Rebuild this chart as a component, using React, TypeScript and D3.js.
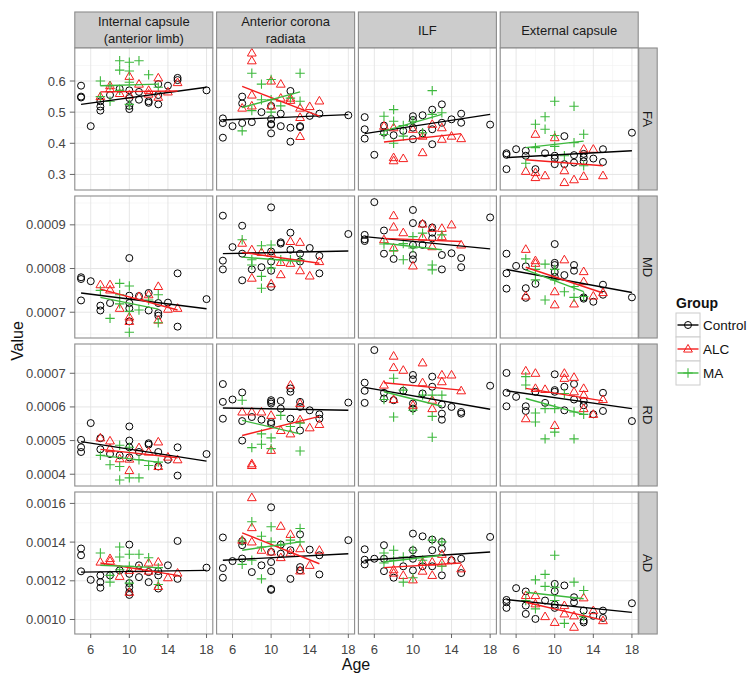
import React from 'react';
import * as d3 from 'd3';

const REGIONS = [["Internal capsule", "(anterior limb)"], ["Anterior corona", "radiata"], ["ILF"], ["External capsule"]];
const MEASURES = ["FA", "MD", "RD", "AD"];
const GROUPS = ["Control", "ALC", "MA"];
const GROUP_COLORS = ["#000000", "#f41e1e", "#3cb83c"];
const AGE_TICKS = [6, 10, 14, 18];
const AGE_MINOR = [8, 12, 16];
const AGE_DOMAIN = [4.35, 18.65];
const Y_DOMAINS = [[0.25, 0.706], [0.000641, 0.000966], [0.000365, 0.000787], [0.000925, 0.001659]];
const Y_TICKS = [[0.3, 0.4, 0.5, 0.6], [0.0007, 0.0008, 0.0009], [0.0004, 0.0005, 0.0006, 0.0007], [0.0010, 0.0012, 0.0014, 0.0016]];
const Y_TICK_LABELS = [["0.3", "0.4", "0.5", "0.6"], ["0.0007", "0.0008", "0.0009"], ["0.0004", "0.0005", "0.0006", "0.0007"], ["0.0010", "0.0012", "0.0014", "0.0016"]];
const Y_MINOR = [[0.25, 0.35, 0.45, 0.55, 0.65], [0.00065, 0.00075, 0.00085, 0.00095], [0.00045, 0.00055, 0.00065, 0.00075], [0.0011, 0.0013, 0.0015]];

// ---------- FA ----------
const FA_CONTROL = [
  [[5,.585],[5,.55],[5,.547],[6,.455],[7,.535],[7,.518],[7,.505],[8,.555],[9,.575],[10,.57],[10,.545],[10,.52],[10,.51],[11,.565],[11,.54],[12,.535],[12,.53],[13,.59],[13,.555],[13,.525],[14,.585],[15,.61],[15,.603],[18,.57]],
  [[5,.48],[5,.465],[5,.418],[6,.455],[7,.55],[7,.528],[7,.465],[8,.468],[9,.5],[10,.52],[10,.478],[10,.462],[10,.46],[10,.432],[11,.495],[11,.455],[12,.568],[12,.45],[12,.405],[13,.455],[13,.452],[14,.488],[15,.495],[18,.49]],
  [[5,.484],[5,.445],[5,.415],[6,.363],[7,.457],[7,.434],[8,.426],[9,.44],[10,.487],[10,.475],[10,.45],[10,.413],[11,.49],[11,.432],[12,.508],[12,.445],[12,.397],[13,.525],[13,.466],[14,.477],[15,.495],[15,.466],[18,.46]],
  [[5,.368],[5,.363],[5,.317],[6,.381],[7,.376],[7,.36],[8,.317],[9,.368],[10,.36],[10,.351],[10,.333],[11,.423],[11,.333],[12,.362],[12,.338],[13,.366],[13,.355],[13,.342],[14,.351],[15,.381],[15,.34],[18,.434]],
];
const FA_ALC = [
  [[7,.55],[8,.585],[8,.575],[9,.56],[10,.615],[10,.555],[11,.59],[12,.57],[12,.558],[13,.61],[13,.548],[14,.565],[15,.595]],
  [[7,.513],[8,.69],[8,.665],[8,.555],[8,.52],[10,.6],[10,.52],[11,.59],[11,.545],[12,.545],[12,.538],[13,.513],[13,.483],[13,.422],[14,.518],[15,.536]],
  [[7,.455],[8,.45],[8,.354],[8,.344],[9,.351],[10,.445],[11,.423],[11,.37],[12,.461],[13,.45],[13,.413],[14,.423],[15,.415]],
  [[7,.31],[8,.429],[8,.306],[8,.29],[9,.296],[10,.418],[11,.312],[11,.274],[12,.283],[13,.381],[13,.294],[14,.381],[15,.296]],
];
const FA_MA = [
  [[7,.6],[7,.55],[8,.585],[8,.535],[9,.665],[9,.635],[9,.57],[10,.66],[10,.632],[10,.596],[10,.525],[11,.665],[12,.62],[13,.58]],
  [[7,.44],[8,.625],[8,.505],[9,.59],[9,.54],[10,.605],[10,.54],[10,.5],[11,.52],[12,.545],[13,.625],[13,.535]],
  [[7,.487],[7,.428],[8,.508],[8,.471],[8,.4],[9,.457],[9,.423],[10,.471],[11,.434],[12,.569],[12,.493],[13,.498]],
  [[7,.336],[8,.461],[8,.386],[9,.485],[9,.445],[10,.535],[10,.425],[10,.39],[11,.36],[12,.519],[12,.402],[13,.429],[13,.328]],
];
const FA_FITS = [
  [[5,.525,18,.58],[7,.565,15,.568],[7,.585,13,.59]],
  [[5,.475,18,.492],[7,.583,15,.487],[7,.515,13,.565]],
  [[5,.431,18,.493],[7,.404,15,.431],[7,.439,13,.493]],
  [[5,.354,18,.376],[7,.347,15,.328],[7,.386,13,.407]],
];

// ---------- MD ----------
const MD_CONTROL = [
  [[5,7.8e-4],[5,7.76e-4],[5,7.27e-4],[6,7.71e-4],[7,7.15e-4],[7,7.04e-4],[8,7.21e-4],[10,8.24e-4],[10,7.38e-4],[10,7.21e-4],[10,7.09e-4],[10,6.79e-4],[11,7.37e-4],[12,7.44e-4],[12,7.04e-4],[13,7.21e-4],[13,6.98e-4],[13,6.92e-4],[14,7.22e-4],[15,7.89e-4],[15,6.67e-4],[18,7.3e-4]],
  [[5,9.21e-4],[5,8.18e-4],[5,7.98e-4],[6,8.49e-4],[7,8.98e-4],[7,8.34e-4],[7,7.73e-4],[8,7.98e-4],[9,8.03e-4],[10,9.4e-4],[10,8.39e-4],[10,8.16e-4],[10,7.95e-4],[10,7.58e-4],[11,8.6e-4],[11,8.57e-4],[12,8.82e-4],[12,8.43e-4],[13,8.34e-4],[13,8.16e-4],[14,8.47e-4],[15,8.29e-4],[15,7.89e-4],[18,8.79e-4]],
  [[5,8.77e-4],[5,8.67e-4],[5,8.63e-4],[6,9.52e-4],[7,8.87e-4],[7,8.34e-4],[8,8.22e-4],[10,9.34e-4],[10,9.04e-4],[10,8.54e-4],[10,8.31e-4],[10,8.21e-4],[11,9.02e-4],[11,8.54e-4],[12,8.94e-4],[12,8.82e-4],[12,8.69e-4],[13,8.31e-4],[13,7.98e-4],[14,8.35e-4],[15,8.24e-4],[15,8.03e-4],[18,9.17e-4]],
  [[5,8.34e-4],[5,7.89e-4],[5,7.54e-4],[6,8.06e-4],[7,8.05e-4],[7,7.55e-4],[7,7.33e-4],[8,7.65e-4],[10,8.56e-4],[10,8.13e-4],[10,8.08e-4],[10,7.92e-4],[10,7.81e-4],[11,7.85e-4],[12,8.08e-4],[12,7.95e-4],[13,7.34e-4],[13,7.31e-4],[14,7.24e-4],[15,7.63e-4],[15,7.4e-4],[18,7.34e-4]],
];
const MD_ALC = [
  [[7,7.63e-4],[8,7.63e-4],[8,7.51e-4],[9,7.09e-4],[10,6.89e-4],[10,6.79e-4],[11,7.36e-4],[12,7.4e-4],[13,7.59e-4],[13,6.82e-4],[14,7.07e-4],[15,7.09e-4]],
  [[7,8.58e-4],[8,8.43e-4],[8,7.78e-4],[9,8.37e-4],[10,8.35e-4],[10,7.65e-4],[11,8.14e-4],[11,7.86e-4],[12,8.62e-4],[12,8.12e-4],[13,8.6e-4],[13,7.95e-4],[14,7.83e-4],[15,8.16e-4]],
  [[7,8.66e-4],[8,9.21e-4],[8,8.95e-4],[8,8.47e-4],[9,8.82e-4],[10,8.06e-4],[11,9.02e-4],[11,8.72e-4],[12,8.92e-4],[12,8.5e-4],[13,8.92e-4],[13,8.73e-4],[14,9.0e-4],[15,8.54e-4]],
  [[7,8.44e-4],[7,7.37e-4],[8,8.18e-4],[8,8.12e-4],[10,7.47e-4],[10,7.17e-4],[11,8.2e-4],[12,7.19e-4],[13,7.93e-4],[13,7.7e-4],[14,7.37e-4],[15,7.45e-4]],
];
const MD_MA = [
  [[7,7.5e-4],[8,6.86e-4],[9,7.66e-4],[9,7.4e-4],[9,7.19e-4],[10,7.6e-4],[10,7.02e-4],[10,6.54e-4],[11,7.05e-4],[12,7.28e-4],[13,7.4e-4],[13,6.76e-4]],
  [[7,8.66e-4],[8,8.2e-4],[8,8.08e-4],[9,8.52e-4],[9,7.82e-4],[9,7.55e-4],[10,8.54e-4],[10,8.01e-4],[11,8.2e-4],[12,8.2e-4],[13,8.2e-4]],
  [[7,8.56e-4],[8,8.41e-4],[9,8.57e-4],[9,8.2e-4],[10,8.73e-4],[10,8.47e-4],[11,8.81e-4],[12,8.08e-4],[12,7.97e-4],[13,8.77e-4]],
  [[7,8.22e-4],[8,7.98e-4],[8,7.74e-4],[9,8.1e-4],[9,7.28e-4],[10,7.98e-4],[10,7.74e-4],[11,7.47e-4],[12,7.59e-4],[12,7.34e-4],[13,7.36e-4]],
];
const MD_FITS = [
  [[5,7.44e-4,18,7.08e-4],[7,7.53e-4,15,7.05e-4],[7,7.34e-4,13,7.07e-4]],
  [[5,8.34e-4,18,8.4e-4],[7,8.37e-4,15,8.12e-4],[7,8.26e-4,13,8.16e-4]],
  [[5,8.73e-4,18,8.45e-4],[7,8.69e-4,15,8.62e-4],[7,8.58e-4,13,8.43e-4]],
  [[5,7.98e-4,18,7.45e-4],[7,8.03e-4,15,7.44e-4],[7,7.97e-4,13,7.47e-4]],
];

// ---------- RD ----------
const RD_CONTROL = [
  [[5,5.02e-4],[5,4.8e-4],[5,4.66e-4],[6,5.52e-4],[7,5.07e-4],[7,4.74e-4],[8,4.6e-4],[9,4.56e-4],[10,5.42e-4],[10,5.0e-4],[10,4.8e-4],[10,4.5e-4],[11,4.66e-4],[12,4.92e-4],[12,4.88e-4],[13,4.66e-4],[13,4.23e-4],[14,4.43e-4],[15,4.8e-4],[15,3.96e-4],[18,4.6e-4]],
  [[5,6.68e-4],[5,6.15e-4],[5,5.65e-4],[6,6.22e-4],[7,6.43e-4],[7,5.58e-4],[7,5.0e-4],[8,5.7e-4],[9,5.62e-4],[10,6.2e-4],[10,6.15e-4],[10,6.1e-4],[10,5.55e-4],[10,5.5e-4],[11,6.18e-4],[11,5.95e-4],[12,6.55e-4],[12,6.45e-4],[12,5.65e-4],[13,6.15e-4],[13,6.0e-4],[13,5.3e-4],[14,5.9e-4],[15,5.78e-4],[15,5.65e-4],[18,6.13e-4]],
  [[5,6.72e-4],[5,6.48e-4],[5,6.12e-4],[6,7.69e-4],[7,6.42e-4],[7,6.25e-4],[8,6.2e-4],[9,6.48e-4],[10,6.95e-4],[10,6.82e-4],[10,6.1e-4],[10,5.95e-4],[11,6.4e-4],[12,6.9e-4],[12,6.6e-4],[13,6.07e-4],[13,5.8e-4],[13,5.62e-4],[14,6.0e-4],[15,5.85e-4],[15,5.8e-4],[18,6.63e-4]],
  [[5,7.01e-4],[5,6.42e-4],[5,6.02e-4],[6,6.3e-4],[7,6.02e-4],[7,5.88e-4],[8,6.45e-4],[9,6.12e-4],[10,6.97e-4],[10,6.5e-4],[10,6.45e-4],[11,6.6e-4],[11,5.9e-4],[12,6.68e-4],[12,6.22e-4],[13,6.18e-4],[13,6.05e-4],[14,5.78e-4],[15,6.42e-4],[15,5.88e-4],[18,5.58e-4]],
];
const RD_ALC = [
  [[7,5.08e-4],[8,4.99e-4],[8,4.76e-4],[9,4.46e-4],[10,4.11e-4],[10,4.45e-4],[11,4.79e-4],[12,4.66e-4],[13,4.96e-4],[13,4.23e-4],[14,4.51e-4],[15,4.43e-4]],
  [[7,5.85e-4],[8,5.85e-4],[8,4.31e-4],[8,4.26e-4],[9,5.85e-4],[10,5.75e-4],[10,4.71e-4],[11,5.3e-4],[12,6.65e-4],[12,5.2e-4],[13,6.1e-4],[13,5.62e-4],[14,5.38e-4],[15,5.48e-4]],
  [[7,6.65e-4],[8,7.51e-4],[8,7.17e-4],[8,6.22e-4],[9,7.09e-4],[10,6.05e-4],[11,7.31e-4],[11,6.72e-4],[12,6.2e-4],[12,5.95e-4],[13,6.95e-4],[13,6.75e-4],[14,6.95e-4],[15,6.48e-4]],
  [[7,7.07e-4],[7,5.65e-4],[8,7.0e-4],[8,6.55e-4],[9,6.52e-4],[10,5.45e-4],[11,7.0e-4],[11,6.85e-4],[12,6.88e-4],[12,6.45e-4],[13,6.55e-4],[13,6.35e-4],[13,5.95e-4],[14,5.78e-4],[15,6.22e-4]],
];
const RD_MA = [
  [[7,4.56e-4],[8,4.28e-4],[9,4.86e-4],[9,4.23e-4],[9,3.83e-4],[10,4.8e-4],[10,3.89e-4],[11,4.43e-4],[11,3.89e-4],[12,4.26e-4],[13,4.36e-4]],
  [[7,6.2e-4],[8,4.79e-4],[9,5.2e-4],[9,4.89e-4],[10,5.08e-4],[10,4.76e-4],[11,5.75e-4],[12,5.42e-4],[13,5.52e-4],[13,4.69e-4]],
  [[7,6.22e-4],[8,6.85e-4],[8,5.7e-4],[9,6.5e-4],[10,5.9e-4],[11,6.35e-4],[12,6.35e-4],[12,5.72e-4],[12,5.1e-4],[13,6.35e-4]],
  [[7,6.9e-4],[7,6.65e-4],[8,5.82e-4],[8,5.55e-4],[9,5.95e-4],[9,5.05e-4],[10,5.95e-4],[10,5.25e-4],[11,6.4e-4],[12,5.85e-4],[12,5.05e-4],[13,5.78e-4]],
];
const RD_FITS = [
  [[5,4.97e-4,18,4.39e-4],[7,4.74e-4,15,4.49e-4],[7,4.56e-4,13,4.36e-4]],
  [[5,5.97e-4,18,5.9e-4],[7,5.15e-4,15,5.72e-4],[7,5.6e-4,13,5.2e-4]],
  [[5,6.58e-4,18,5.93e-4],[7,6.72e-4,15,6.5e-4],[7,6.45e-4,13,6.02e-4]],
  [[5,6.48e-4,18,5.95e-4],[7,6.55e-4,15,6.18e-4],[7,6.25e-4,13,5.78e-4]],
];

// ---------- AD ----------
const AD_CONTROL = [
  [[5,1.367e-3],[5,1.332e-3],[5,1.249e-3],[6,1.205e-3],[7,1.228e-3],[7,1.193e-3],[7,1.164e-3],[8,1.228e-3],[9,1.254e-3],[10,1.387e-3],[10,1.236e-3],[10,1.188e-3],[10,1.167e-3],[10,1.141e-3],[10,1.127e-3],[11,1.28e-3],[11,1.219e-3],[12,1.245e-3],[12,1.193e-3],[13,1.25e-3],[13,1.228e-3],[13,1.16e-3],[14,1.28e-3],[15,1.406e-3],[15,1.21e-3],[18,1.268e-3]],
  [[5,1.424e-3],[5,1.266e-3],[5,1.216e-3],[6,1.302e-3],[7,1.405e-3],[7,1.384e-3],[7,1.315e-3],[8,1.245e-3],[9,1.28e-3],[10,1.58e-3],[10,1.349e-3],[10,1.297e-3],[10,1.25e-3],[10,1.158e-3],[10,1.153e-3],[11,1.387e-3],[11,1.34e-3],[12,1.358e-3],[12,1.21e-3],[13,1.44e-3],[13,1.271e-3],[13,1.254e-3],[14,1.361e-3],[15,1.332e-3],[15,1.233e-3],[18,1.41e-3]],
  [[5,1.363e-3],[5,1.309e-3],[5,1.285e-3],[6,1.314e-3],[7,1.384e-3],[7,1.314e-3],[7,1.25e-3],[8,1.216e-3],[9,1.275e-3],[10,1.444e-3],[10,1.358e-3],[10,1.314e-3],[10,1.254e-3],[11,1.43e-3],[11,1.275e-3],[12,1.413e-3],[12,1.358e-3],[12,1.275e-3],[13,1.401e-3],[13,1.366e-3],[13,1.228e-3],[14,1.306e-3],[15,1.314e-3],[15,1.24e-3],[18,1.427e-3]],
  [[5,1.101e-3],[5,1.089e-3],[5,1.06e-3],[6,1.162e-3],[7,1.145e-3],[7,1.072e-3],[7,1.029e-3],[8,1.003e-3],[9,1.098e-3],[10,1.184e-3],[10,1.146e-3],[10,1.077e-3],[10,1.06e-3],[11,1.176e-3],[12,1.115e-3],[12,1.089e-3],[13,1.046e-3],[13,0.994e-3],[13,0.985e-3],[14,1.019e-3],[15,1.046e-3],[15,1.008e-3],[18,1.084e-3]],
];
const AD_ALC = [
  [[7,1.297e-3],[8,1.315e-3],[8,1.302e-3],[9,1.223e-3],[10,1.254e-3],[10,1.141e-3],[11,1.262e-3],[12,1.292e-3],[12,1.25e-3],[13,1.297e-3],[13,1.171e-3],[14,1.216e-3],[15,1.24e-3]],
  [[7,1.41e-3],[8,1.63e-3],[8,1.475e-3],[8,1.401e-3],[9,1.358e-3],[10,1.349e-3],[11,1.482e-3],[11,1.32e-3],[12,1.44e-3],[12,1.344e-3],[13,1.366e-3],[13,1.251e-3],[14,1.28e-3],[15,1.358e-3]],
  [[8,1.257e-3],[8,1.24e-3],[9,1.228e-3],[10,1.205e-3],[11,1.297e-3],[11,1.25e-3],[12,1.297e-3],[12,1.228e-3],[13,1.337e-3],[13,1.292e-3],[14,1.306e-3],[15,1.262e-3]],
  [[7,1.124e-3],[8,1.124e-3],[8,1.081e-3],[9,1.015e-3],[10,0.985e-3],[11,1.072e-3],[11,1.029e-3],[12,1.019e-3],[12,0.96e-3],[13,1.112e-3],[14,1.046e-3],[15,0.994e-3]],
];
const AD_MA = [
  [[7,1.344e-3],[8,1.228e-3],[8,1.193e-3],[9,1.375e-3],[9,1.323e-3],[9,1.257e-3],[10,1.337e-3],[10,1.275e-3],[10,1.188e-3],[11,1.337e-3],[12,1.319e-3],[13,1.268e-3],[13,1.181e-3]],
  [[7,1.406e-3],[7,1.285e-3],[8,1.505e-3],[8,1.306e-3],[9,1.43e-3],[9,1.375e-3],[9,1.21e-3],[10,1.479e-3],[10,1.401e-3],[11,1.384e-3],[12,1.41e-3],[13,1.47e-3],[13,1.401e-3]],
  [[7,1.344e-3],[7,1.292e-3],[8,1.358e-3],[8,1.306e-3],[9,1.323e-3],[9,1.193e-3],[10,1.358e-3],[10,1.216e-3],[11,1.306e-3],[12,1.41e-3],[13,1.401e-3],[13,1.275e-3]],
  [[7,1.098e-3],[8,1.205e-3],[8,1.055e-3],[9,1.233e-3],[9,1.171e-3],[10,1.332e-3],[10,1.167e-3],[10,1.098e-3],[11,0.98e-3],[12,1.193e-3],[13,1.15e-3],[13,1.015e-3]],
];
const AD_FITS = [
  [[5,1.245e-3,18,1.254e-3],[7,1.292e-3,15,1.228e-3],[7,1.28e-3,13,1.268e-3]],
  [[5,1.306e-3,18,1.34e-3],[7,1.448e-3,15,1.288e-3],[7,1.358e-3,13,1.401e-3]],
  [[5,1.306e-3,18,1.349e-3],[7,1.268e-3,15,1.292e-3],[7,1.297e-3,13,1.332e-3]],
  [[5,1.103e-3,18,1.037e-3],[7,1.089e-3,15,0.997e-3],[7,1.141e-3,13,1.107e-3]],
];

const POINTS = [[FA_CONTROL, FA_ALC, FA_MA], [MD_CONTROL, MD_ALC, MD_MA], [RD_CONTROL, RD_ALC, RD_MA], [AD_CONTROL, AD_ALC, AD_MA]];
const FITS = [FA_FITS, MD_FITS, RD_FITS, AD_FITS];

const FONT = "'Liberation Sans', Arial, Helvetica, sans-serif";
const BORDER = "#8c8c8c";

function Marker({ g, x, y }: { g: number; x: number; y: number }) {
  const c = GROUP_COLORS[g];
  if (g === 0) return <circle cx={x} cy={y} r={3.5} fill="none" stroke={c} strokeWidth={1} />;
  if (g === 1) {
    const s = 8.8, h = s * 0.866;
    const d = `M${x},${y - h * 0.6}L${x + s / 2},${y + h * 0.4}L${x - s / 2},${y + h * 0.4}Z`;
    return <path d={d} fill="none" stroke={c} strokeWidth={1} />;
  }
  const a = 4.7;
  return <path d={`M${x - a},${y}H${x + a}M${x},${y - a}V${y + a}`} stroke={c} strokeWidth={1.1} fill="none" />;
}

export default function App() {
  const W = 750, H = 677;
  const left0 = 74.8, colStep = 141.8, pw = 138;
  const top0 = 48, rowStep = 148, ph = 142;
  const stripTop = 12;
  const rightStripX = left0 + 3 * colStep + pw + 0.5;
  const rightStripW = 18.5;

  const panels: JSX.Element[] = [];
  MEASURES.forEach((m, r) => {
    const top = top0 + r * rowStep;
    const y = d3.scaleLinear().domain(Y_DOMAINS[r]).range([top + ph, top]);
    REGIONS.forEach((_, c) => {
      const left = left0 + c * colStep;
      const x = d3.scaleLinear().domain(AGE_DOMAIN).range([left, left + pw]);
      const key = `${r}-${c}`;
      panels.push(
        <g key={key}>
          <rect x={left} y={top} width={pw} height={ph} fill="#fff" />
          {AGE_MINOR.map(t => <line key={'xm' + t} x1={x(t)} x2={x(t)} y1={top} y2={top + ph} stroke="#f2f2f2" strokeWidth={0.6} />)}
          {Y_MINOR[r].filter(t => t > Y_DOMAINS[r][0] && t < Y_DOMAINS[r][1]).map(t => <line key={'ym' + t} x1={left} x2={left + pw} y1={y(t)} y2={y(t)} stroke="#f2f2f2" strokeWidth={0.6} />)}
          {AGE_TICKS.map(t => <line key={'xg' + t} x1={x(t)} x2={x(t)} y1={top} y2={top + ph} stroke="#e3e3e3" strokeWidth={0.9} />)}
          {Y_TICKS[r].map(t => <line key={'yg' + t} x1={left} x2={left + pw} y1={y(t)} y2={y(t)} stroke="#e3e3e3" strokeWidth={0.9} />)}
          {POINTS[r].map((grp, g) => grp[c].map((p, i) => <Marker key={`p${g}-${i}`} g={g} x={x(p[0])} y={y(p[1])} />))}
          {FITS[r][c].map((f, g) => (
            <line key={'f' + g} x1={x(f[0])} y1={y(f[1])} x2={x(f[2])} y2={y(f[3])} stroke={GROUP_COLORS[g]} strokeWidth={1.4} />
          ))}
          <rect x={left} y={top} width={pw} height={ph} fill="none" stroke={BORDER} strokeWidth={1.1} />
          {c === 0 && Y_TICKS[r].map((t, i) => (
            <g key={'yt' + t}>
              <line x1={left - 5} x2={left} y1={y(t)} y2={y(t)} stroke="#555" strokeWidth={0.9} />
              <text x={left - 9} y={y(t)} dy="0.35em" textAnchor="end" fontSize={13} fill="#444">{Y_TICK_LABELS[r][i]}</text>
            </g>
          ))}
          {r === 3 && AGE_TICKS.map(t => (
            <g key={'xt' + t}>
              <line x1={x(t)} x2={x(t)} y1={top + ph} y2={top + ph + 4} stroke="#555" strokeWidth={0.9} />
              <text x={x(t)} y={top + ph + 15} dy="0.35em" textAnchor="middle" fontSize={13} fill="#444">{t}</text>
            </g>
          ))}
        </g>
      );
    });
  });

  return (
    <svg width={W} height={H} style={{ position: 'absolute', left: 0, top: 0, background: '#fff' }} fontFamily={FONT}>
      <rect x={0} y={0} width={W} height={H} fill="#fff" />
      {REGIONS.map((lines, c) => {
        const left = left0 + c * colStep;
        const cy = stripTop + (top0 - stripTop) / 2;
        return (
          <g key={'st' + c}>
            <rect x={left} y={stripTop} width={pw} height={top0 - stripTop} fill="#cccccc" stroke={BORDER} strokeWidth={1.1} />
            {lines.map((ln, i) => (
              <text key={i} x={left + pw / 2} y={cy + (i - (lines.length - 1) / 2) * 17} dy="0.35em" textAnchor="middle" fontSize={13} fill="#1a1a1a">{ln}</text>
            ))}
          </g>
        );
      })}
      {MEASURES.map((m, r) => {
        const top = top0 + r * rowStep;
        const cx = rightStripX + rightStripW / 2;
        const cy = top + ph / 2;
        return (
          <g key={'rs' + r}>
            <rect x={rightStripX} y={top} width={rightStripW} height={ph} fill="#cccccc" stroke={BORDER} strokeWidth={1.1} />
            <text transform={`translate(${cx},${cy}) rotate(90)`} dy="0.35em" textAnchor="middle" fontSize={13} fill="#1a1a1a">{m}</text>
          </g>
        );
      })}
      {panels}
      <text x={356} y={664} dy="0.35em" textAnchor="middle" fontSize={16} fill="#111">Age</text>
      <text transform={`translate(17,${(top0 + top0 + 3 * rowStep + ph) / 2}) rotate(-90)`} dy="0.35em" textAnchor="middle" fontSize={16} fill="#111">Value</text>
      <g>
        <text x={676} y={303} dy="0.35em" fontSize={14} fontWeight="bold" fill="#111">Group</text>
        {GROUPS.map((gName, g) => {
          const ky = 313 + g * 24;
          return (
            <g key={'lg' + g}>
              <rect x={676} y={ky} width={24} height={24} fill="#fff" stroke="#cccccc" strokeWidth={1} />
              <line x1={677.5} x2={698.5} y1={ky + 12} y2={ky + 12} stroke={GROUP_COLORS[g]} strokeWidth={1.4} />
              <Marker g={g} x={688} y={ky + 12} />
              <text x={703} y={ky + 12} dy="0.35em" fontSize={13.5} fill="#111">{gName}</text>
            </g>
          );
        })}
      </g>
    </svg>
  );
}
